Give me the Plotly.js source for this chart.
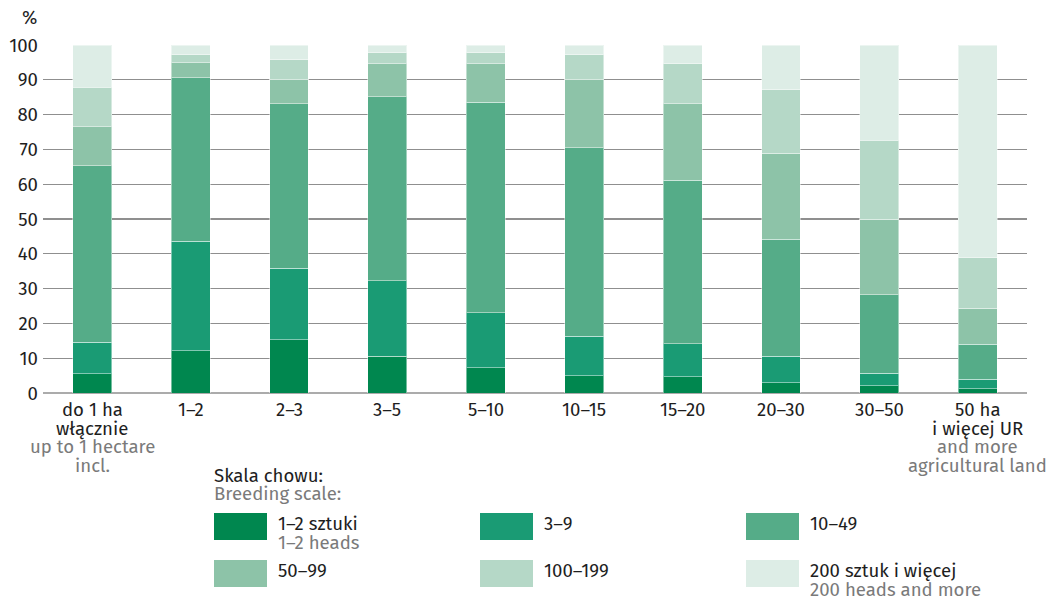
<!DOCTYPE html>
<html>
<head>
<meta charset="utf-8">
<script src="https://cdn.plot.ly/plotly-3.0.1.min.js"></script>
<style>
html,body{margin:0;padding:0;background:#fff;}
#chart{width:1051px;height:597px;}
</style>
</head>
<body>
<div id="chart"></div>
<script>
// Categories (farm area groups), one array per label line
const categoriesPL1 = ["do 1 ha", "1–2", "2–3", "3–5", "5–10", "10–15", "15–20", "20–30", "30–50", "50 ha"];
const categoriesPL2 = ["włącznie", "", "", "", "", "", "", "", "", "i więcej UR"];
const categoriesEN1 = ["up to 1 hectare", "", "", "", "", "", "", "", "", "and more"];
const categoriesEN2 = ["incl.", "", "", "", "", "", "", "", "", "agricultural land"];

// Series (share of breeding scale, %)
const seriesNamesPL = ["1–2 sztuki", "3–9", "10–49", "50–99", "100–199", "200 sztuk i więcej"];
const seriesNamesEN = ["1–2 heads", "", "", "", "", "200 heads and more"];
const s1_2     = [5.5, 12.1, 15.3, 10.6, 7.3, 4.9, 4.6, 2.9, 2.1, 1.2];
const s3_9     = [9.1, 31.5, 20.5, 21.7, 15.7, 11.4, 9.5, 7.7, 3.6, 2.8];
const s10_49   = [50.7, 47.0, 47.3, 52.9, 60.6, 54.2, 47.1, 33.6, 22.6, 10.0];
const s50_99   = [11.2, 4.3, 6.9, 9.4, 11.0, 19.5, 21.9, 24.7, 21.7, 10.3];
const s100_199 = [11.4, 2.3, 5.7, 3.2, 3.2, 7.2, 11.5, 18.2, 22.7, 14.5];
const s200plus = [12.1, 2.8, 4.3, 2.2, 2.2, 2.8, 5.4, 12.9, 27.3, 61.2];

const yTicks = [0, 10, 20, 30, 40, 50, 60, 70, 80, 90, 100];

const colors = ["#00874f", "#1a9b74", "#55ac88", "#8dc3a8", "#b5d8c7", "#ddede6"];
const allSeries = [s1_2, s3_9, s10_49, s50_99, s100_199, s200plus];

const FONT = "Fira Sans, Noto Sans, sans-serif";
const FS = 18.6;
const DARK = "#1e1e1e";
const GREY = "#7a7a7a";

const W = 1051, H = 597;
const ML = 43, MR = 24, MT = 45, MB = 204;
const PW = W - ML - MR, PH = H - MT - MB;
const px = v => (v - ML) / PW;
const py = v => (H - MB - v) / PH;

const idx = categoriesPL1.map((_, i) => i);

const traces = allSeries.map((vals, k) => ({
  type: "bar",
  x: idx,
  y: vals,
  name: seriesNamesPL[k],
  marker: {color: colors[k], line: {color: "rgba(255,255,255,0.45)", width: 1}},
  width: 0.395,
  showlegend: false,
  hoverinfo: "y+name"
}));

const shapes = [];
const annotations = [];

// X-axis category labels (line by line)
const labelLines = [
  {arr: categoriesPL1, y: 410, color: DARK},
  {arr: categoriesPL2, y: 428.5, color: DARK},
  {arr: categoriesEN1, y: 447, color: GREY},
  {arr: categoriesEN2, y: 465.5, color: GREY}
];
labelLines.forEach(L => {
  L.arr.forEach((t, i) => {
    if (!t) return;
    annotations.push({xref: "x", yref: "paper", x: i, y: py(L.y), xanchor: "center", yanchor: "middle",
      text: t, showarrow: false, font: {family: FONT, size: FS, color: L.color}});
  });
});

// Custom legend (3 columns x 2 rows)
const colX = [214, 480, 746];
const rowY = [513, 560];
const swW = 53, swH = 27;

annotations.push({xref: "paper", yref: "paper", x: px(212), y: py(476), xanchor: "left", yanchor: "middle",
  text: "Skala chowu:", showarrow: false, font: {family: FONT, size: FS, color: DARK}});
annotations.push({xref: "paper", yref: "paper", x: px(212), y: py(494), xanchor: "left", yanchor: "middle",
  text: "Breeding scale:", showarrow: false, font: {family: FONT, size: FS, color: GREY}});

seriesNamesPL.forEach((n, k) => {
  const c = k % 3, r = Math.floor(k / 3);
  const x0 = colX[c], y0 = rowY[r];
  shapes.push({type: "rect", xref: "paper", yref: "paper",
    x0: px(x0), x1: px(x0 + swW), y0: py(y0), y1: py(y0 + swH),
    fillcolor: colors[k], line: {width: 0}});
  annotations.push({xref: "paper", yref: "paper", x: px(x0 + 62), y: py(y0 + 11), xanchor: "left", yanchor: "middle",
    text: n, showarrow: false, font: {family: FONT, size: FS, color: DARK}});
  if (seriesNamesEN[k]) {
    annotations.push({xref: "paper", yref: "paper", x: px(x0 + 62), y: py(y0 + 29.5), xanchor: "left", yanchor: "middle",
      text: seriesNamesEN[k], showarrow: false, font: {family: FONT, size: FS, color: GREY}});
  }
});

annotations.push({xref: "paper", yref: "paper", x: px(29), y: py(18), xanchor: "center", yanchor: "middle",
  text: "%", showarrow: false, font: {family: FONT, size: FS, color: DARK}});

const layout = {
  width: W, height: H,
  margin: {l: ML, r: MR, t: MT, b: MB},
  barmode: "stack",
  paper_bgcolor: "#fff",
  plot_bgcolor: "#fff",
  font: {family: FONT, size: FS, color: DARK},
  xaxis: {
    tickmode: "array", tickvals: idx, ticktext: idx.map(() => ""),
    range: [-0.5, 9.5], showgrid: false, zeroline: false, showline: false,
    ticks: "", fixedrange: true
  },
  yaxis: {
    range: [0, 100], tickmode: "array", tickvals: yTicks,
    showgrid: true, gridcolor: "#8f8f8f", gridwidth: 1.2,
    zeroline: true, zerolinecolor: "#ababab", zerolinewidth: 1.5,
    ticks: "", ticklabelstandoff: 4,
    tickfont: {family: FONT, size: FS, color: DARK}, fixedrange: true
  },
  shapes: shapes,
  annotations: annotations
};

Plotly.newPlot("chart", traces, layout, {displayModeBar: false, staticPlot: true});
</script>
</body>
</html>
